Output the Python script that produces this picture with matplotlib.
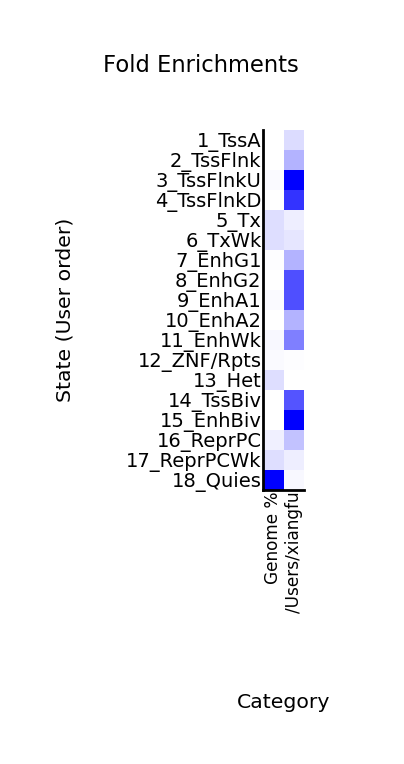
import matplotlib
matplotlib.use("Agg")
import matplotlib.pyplot as plt
import numpy as np
from matplotlib.colors import LinearSegmentedColormap

states = ["1_TssA", "2_TssFlnk", "3_TssFlnkU", "4_TssFlnkD", "5_Tx", "6_TxWk",
          "7_EnhG1", "8_EnhG2", "9_EnhA1", "10_EnhA2", "11_EnhWk", "12_ZNF/Rpts",
          "13_Het", "14_TssBiv", "15_EnhBiv", "16_ReprPC", "17_ReprPCWk", "18_Quies"]
categories = ["Genome %", "/Users/xiangfu"]
genome_pct = [0.0, 0.0, 0.02, 0.0, 0.13, 0.13, 0.01, 0.0, 0.02, 0.0, 0.03, 0.02,
              0.13, 0.0, 0.0, 0.06, 0.13, 1.0]
users_col = [0.14, 0.3, 1.0, 0.8, 0.07, 0.1, 0.3, 0.69, 0.69, 0.3, 0.5, 0.01,
             0.0, 0.67, 1.0, 0.24, 0.07, 0.03]

data = np.column_stack([genome_pct, users_col])
cmap = LinearSegmentedColormap.from_list("wb", ["#ffffff", "#0000ff"])

fig = plt.figure(figsize=(4.04, 7.64), dpi=100)
ax = fig.add_axes([263/404, 1-490/764, 41/404, 360/764])
ax.pcolormesh(np.arange(len(categories)+1), np.arange(len(states)+1), data,
              cmap=cmap, vmin=0, vmax=1)
ax.set_xlim(0, len(categories))
ax.set_ylim(len(states), 0)
ax.set_yticks(np.arange(len(states)) + 0.5)
ax.set_yticklabels(states, fontsize=14)
ax.set_xticks(np.arange(len(categories)) + 0.5)
ax.set_xticklabels(categories, fontsize=12.2, rotation=90)
ax.tick_params(length=0, pad=1)
for s in ["top", "right"]:
    ax.spines[s].set_visible(False)
for s in ["left", "bottom"]:
    ax.spines[s].set_linewidth(2)

fig.text(201/404, 1-66/764, "Fold Enrichments", fontsize=16.3, ha="center", va="center")
fig.text(65/404, 1-310/764, "State (User order)", fontsize=14.7, rotation=90,
         ha="center", va="center")
fig.text(283.5/404, 1-702/764, "Category", fontsize=14.7, ha="center", va="center")

fig.savefig("out.png", dpi=100)
